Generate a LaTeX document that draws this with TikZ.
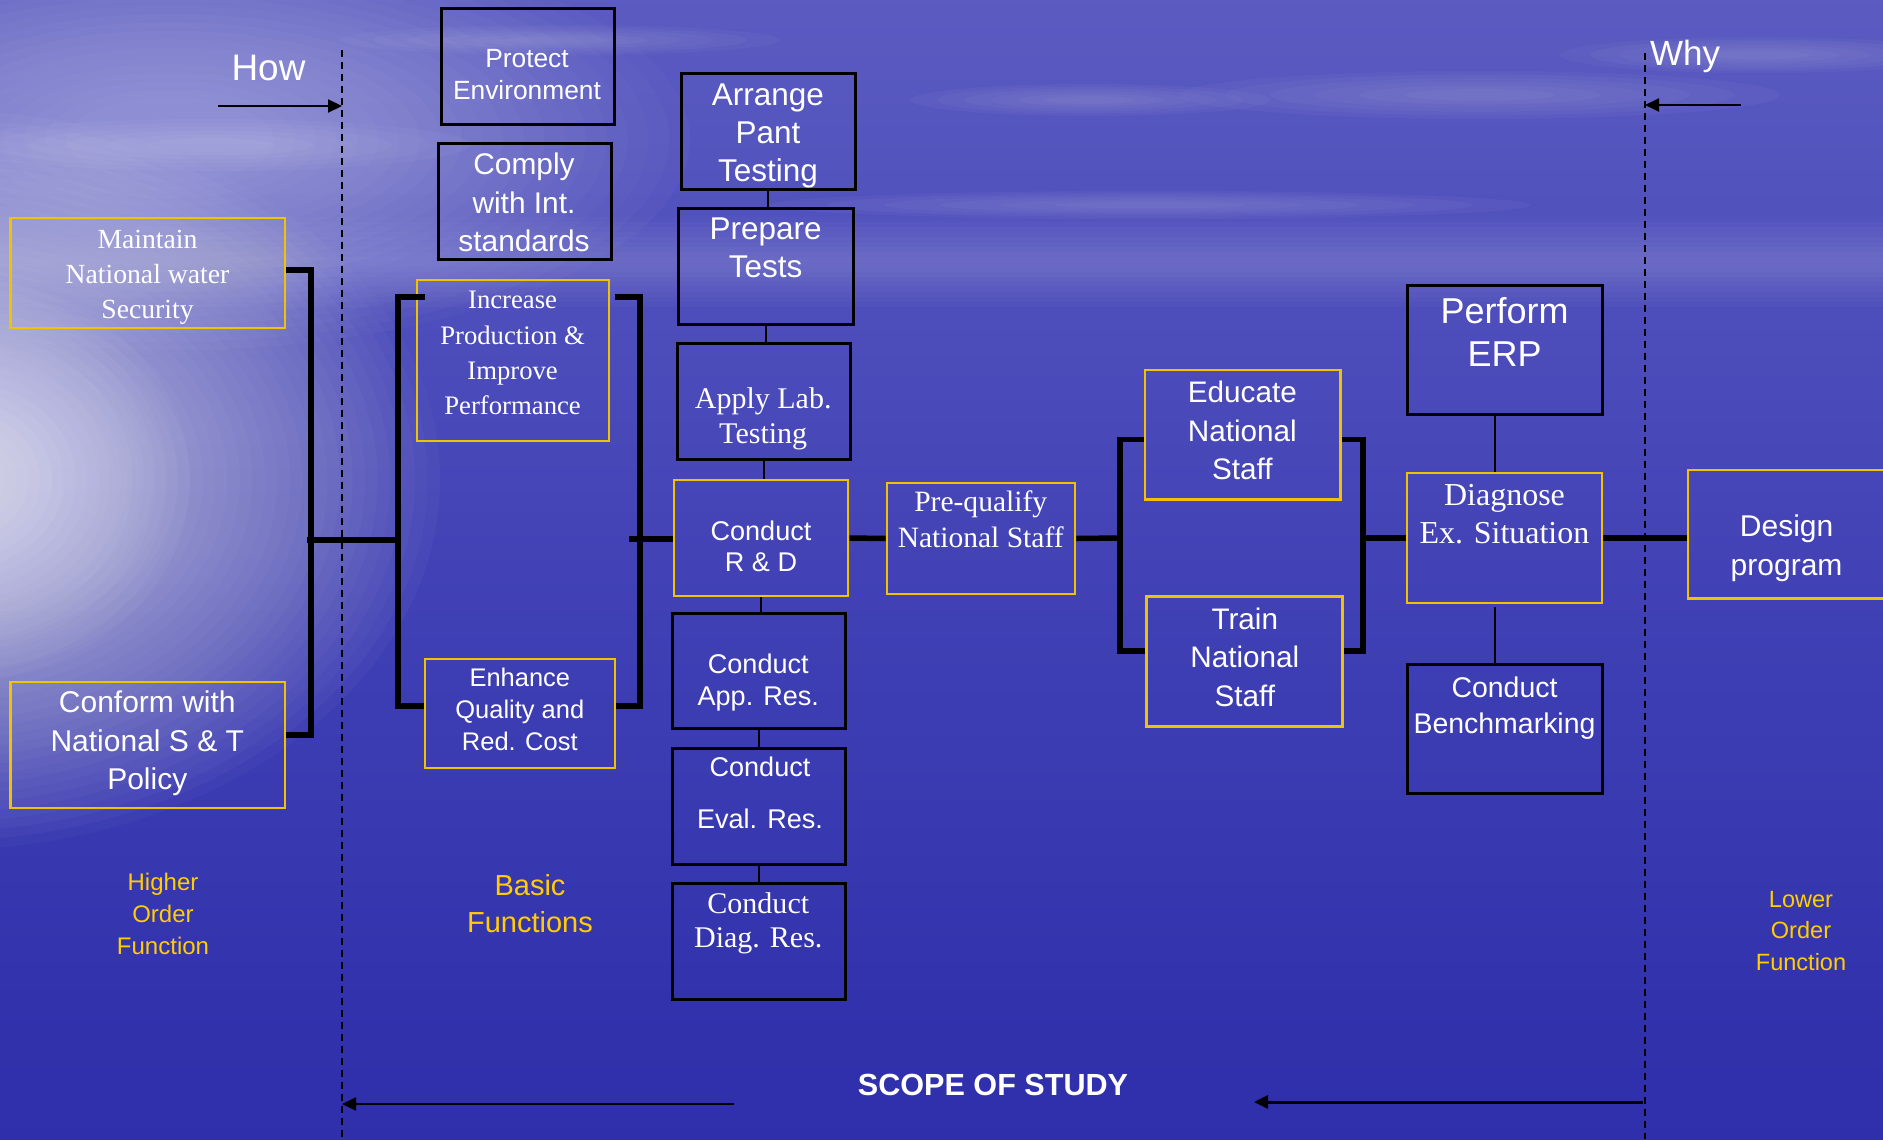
\documentclass[tikz,border=0pt]{standalone}
\usepackage{fontspec}
\setmainfont{Liberation Serif}
\newfontfamily\sansf{Liberation Sans}
\usetikzlibrary{arrows.meta,calc}
\newcommand\setfz[2]{\fontsize{#1}{#2}\selectfont}
\definecolor{ybox}{RGB}{240,195,0}
\definecolor{ytxt}{RGB}{255,205,0}
\definecolor{bgtop}{RGB}{112,112,202}
\definecolor{bgmidA}{RGB}{88,88,192}
\definecolor{bgmidB}{RGB}{66,66,182}
\definecolor{bgbot}{RGB}{38,38,166}
\pgfdeclareverticalshading{bgsh}{100bp}{color(0bp)=(bgbot); color(30bp)=(bgbot!60!bgmidB); color(50bp)=(bgmidB); color(72bp)=(bgmidA); color(100bp)=(bgtop)}
\begin{document}
\begin{tikzpicture}[x=0.1mm, y=-0.1mm,
  bk/.style 2 args={draw=black, line width=0.3mm, inner sep=0pt, minimum width=#1*0.1mm, minimum height=#2*0.1mm},
  by/.style 2 args={draw=ybox, line width=0.28mm, inner sep=0pt, minimum width=#1*0.1mm, minimum height=#2*0.1mm},
  tw/.style={text=white, align=center, inner sep=0pt},
  ty/.style={text=ytxt, align=center, inner sep=0pt},
  brk/.style={line width=0.55mm, line join=miter, draw=black},
  thinln/.style={line width=0.2mm, draw=black},
  dashln/.style={line width=0.2mm, draw=black, dash pattern=on 0.7mm off 0.5mm},
  arw/.style={line width=0.22mm, draw=black, -{Triangle[length=1.4mm, width=1.3mm]}}
]
\useasboundingbox (0,0) rectangle (1883,1139);
% background
\shade[shading=bgsh] (0,0) rectangle (1883,1139);
\foreach \s in {1.0,0.975,...,0.05}
  \fill[white, opacity=0.028] (-60,480) ellipse [x radius=\s*500, y radius=\s*370];
\foreach \s in {1.0,0.95,...,0.1}
  \fill[white, opacity=0.035] (-40,480) ellipse [x radius=\s*230, y radius=\s*200];
\foreach \s in {1.0,0.96,...,0.2}
  \fill[white, opacity=0.022] (170,140) ellipse [x radius=\s*520, y radius=\s*210];
\foreach \h in {45,40,...,5}
  \fill[white, opacity=0.018] (0,262-\h) rectangle (1883,262+\h);
\foreach \cx/\cy/\rx/\ry in {210/145/260/26, 1090/100/180/16, 1480/95/300/24, 1760/55/200/18, 1150/205/380/14, 560/40/220/15}
  \foreach \s in {1.0,0.85,...,0.25}
    \fill[white, opacity=0.03] (\cx,\cy) ellipse [x radius=\s*\rx, y radius=\s*\ry];

% boxes
\node[bk={173}{116}] (prot) at (527.5,66) {};
\node[bk={173}{116}] (comp) at (525,201) {};
\node[by={274.5}{110}] (maint) at (147.75,273) {};
\node[by={192}{161}] (incr) at (513,360.5) {};
\node[by={190}{109}] (enh) at (520,713.5) {};
\node[by={274.5}{126}] (conf) at (147.75,745) {};
\node[bk={174}{116}] (arr) at (768,131) {};
\node[bk={174.4}{116}] (prep) at (765.8,266) {};
\node[bk={173}{116}] (apply) at (763.5,401) {};
\node[by={174}{116}] (rd) at (761,538) {};
\node[bk={173.7}{115}] (app) at (758.9,671.1) {};
\node[bk={173.7}{115.4}] (eval) at (758.9,806.3) {};
\node[bk={173.7}{115.4}] (diag) at (758.9,941.3) {};
\node[by={188}{111}] (pq) at (981,538.5) {};
\node[by={195.7}{129.6}] (edu) at (1242.9,434.8) {};
\node[by={196.3}{129.6}] (train) at (1244.6,661.6) {};
\node[bk={195}{129}] (perf) at (1504.5,349.5) {};
\node[by={195}{130}] (dgn) at (1504.5,538) {};
\node[bk={195}{128.4}] (bench) at (1504.5,728.8) {};
\node[by={198}{128.6}] (design) at (1787,534.3) {};

% texts
\node[tw, font=\sansf\setfz{7.5}{9}] (protT) at (527,74.7) {Protect\\Environment};
\node[tw, font=\sansf\setfz{8.5}{10.95}] (compT) at (524,202.7) {Comply\\with Int.\\standards};
\node[tw, font=\setfz{7.88}{9.96}] (maintT) at (147.5,276.9) {Maintain\\National water\\Security};
\node[tw, font=\setfz{7.6}{10}] (incrT) at (512.6,353) {Increase\\Production \&\\Improve\\Performance};
\node[tw, font=\sansf\setfz{8.96}{10.75}] (arrT) at (768,135.8) {Arrange\\Pant\\Testing};
\node[tw, font=\sansf\setfz{8.96}{10.75}] (prepT) at (765.7,248.2) {Prepare\\Tests};
\node[tw, font=\setfz{8.54}{10}] (applyT) at (763.2,418.7) {Apply Lab.\\Testing};
\node[tw, font=\sansf\setfz{7.7}{8.8}] (rdT) at (761,546.5) {Conduct\\R \& D};
\node[tw, font=\sansf\setfz{7.7}{9.1}] (appT) at (758.3,682.1) {Conduct\\App. Res.};
\node[tw, font=\sansf\setfz{7.7}{15}] (evalT) at (760,792.8) {Conduct\\Eval. Res.};
\node[tw, font=\setfz{8.54}{9.8}] (diagT) at (758.3,923.3) {Conduct\\Diag. Res.};
\node[tw, font=\setfz{8.4}{10.15}] (pqT) at (980.7,519.5) {Pre-qualify\\National Staff};
\node[tw, font=\sansf\setfz{8.45}{10.9}] (eduT) at (1242.3,430.5) {Educate\\National\\Staff};
\node[tw, font=\sansf\setfz{8.45}{10.9}] (trainT) at (1244.8,657.2) {Train\\National\\Staff};
\node[tw, font=\sansf\setfz{10.24}{12.35}] (perfT) at (1504.5,332.2) {Perform\\ERP};
\node[tw, font=\setfz{9.1}{10.9}] (dgnT) at (1504.5,514) {Diagnose\\Ex. Situation};
\node[tw, font=\sansf\setfz{8.1}{10.1}] (benchT) at (1504.5,707.9) {Conduct\\Benchmarking};
\node[tw, font=\sansf\setfz{8.54}{11.15}] (designT) at (1786.6,548.6) {Design\\program};
\node[tw, font=\sansf\setfz{7.25}{9.1}] (enhT) at (519.8,709.4) {Enhance\\Quality and\\Red. Cost};
\node[tw, font=\sansf\setfz{8.54}{10.95}] (confT) at (147.3,743.7) {Conform with\\National S \& T\\Policy};
\node[tw, anchor=base, font=\sansf\setfz{10.5}{12}] (how) at (268.5,80) {How};
\node[tw, anchor=base, font=\sansf\setfz{9.96}{12}] (why) at (1685,65) {Why};
\node[ty, font=\sansf\setfz{6.83}{9.1}] (hof) at (163,914.1) {Higher\\Order\\Function};
\node[ty, font=\sansf\setfz{8.25}{10.5}] (basic) at (530,904) {Basic\\Functions};
\node[ty, font=\sansf\setfz{6.7}{9.1}] (lof) at (1801,931) {Lower\\Order\\Function};
\node[tw, anchor=base, font=\sansf\bfseries\setfz{8.7}{10}] (scope) at (993,1095) {SCOPE OF STUDY};

% dashed boundaries
\coordinate (dlA) at (342,50);
\coordinate (dlAb) at (342,1139);
\coordinate (dlB) at (1645,53);
\coordinate (dlBb) at (1645,1139);
\draw[dashln] (dlA) -- (dlAb);
\draw[dashln] (dlB) -- (dlBb);

% how / why arrows
\coordinate (howS) at (218,106);
\coordinate (whyS) at (1741,105);
\draw[arw] (howS) -- (howS -| dlA);
\draw[arw] (whyS) -- (whyS -| dlB);
\coordinate (scL) at (734,1104);
\coordinate (scR) at (1643,1102);
\coordinate (scRe) at (1254,1102);
\draw[arw] (scL) -- (scL -| dlA);
\draw[arw, line width=0.3mm] (scR) -- (scRe);

% bracket 1
\coordinate (k1a) at (311,270);
\coordinate (k1b) at (311,735);
\coordinate (k1m) at (307,540);
\draw[brk] (maint.east |- k1a) -- (k1a) -- (k1b) -- (conf.east |- k1b);
% bracket 2 (left)
\coordinate (k2a) at (398,297);
\coordinate (k2b) at (398,706);
\coordinate (k2m) at (398,540);
\draw[brk] (k1m) -- (k2m);
\draw[brk] ($(incr.west |- k2a)+(9,0)$) -- (k2a) -- (k2b) -- (enh.west |- k2b);
% bracket 2 (right)
\coordinate (k3a) at (640,297);
\coordinate (k3b) at (640,706);
\coordinate (k3m) at (629,539);
\draw[brk] ($(incr.east |- k3a)+(5,0)$) -- (k3a) -- (k3b) -- (enh.east |- k3b);
\draw[brk] (k3m) -- (rd.west |- k3m);
% vertical stack
\draw[thinln] (arr.south) -- (arr.south |- prep.north);
\draw[thinln] (prep.south) -- (prep.south |- apply.north);
\draw[thinln] (apply.south) -- (apply.south |- rd.north);
\draw[thinln] (rd.south) -- (rd.south |- app.north);
\draw[thinln] (app.south) -- (app.south |- eval.north);
\draw[thinln] (eval.south) -- (eval.south |- diag.north);
% main chain
\draw[brk] (rd.east) -- (pq.west);
\coordinate (k4a) at (1120,439.6);
\coordinate (k4b) at (1120,651);
\coordinate (k4m) at (1120,538);
\draw[brk] (pq.east) -- (k4m);
\draw[brk] (edu.west |- k4a) -- (k4a) -- (k4b) -- (train.west |- k4b);
\coordinate (k5a) at (1363,439.6);
\coordinate (k5b) at (1363,651);
\coordinate (k5m) at (1363,538);
\draw[brk] (edu.east |- k5a) -- (k5a) -- (k5b) -- (train.east |- k5b);
\draw[brk] (k5m) -- (dgn.west);
\draw[brk] (dgn.east) -- (design.west |- dgn.east);
\draw[thinln] ($(perf.south)+(-10,0)$) -- ($(dgn.north)+(-10,0)$);
\draw[thinln] ($(dgn.south)+(-10,3)$) -- ($(bench.north)+(-10,0)$);
\end{tikzpicture}
\end{document}
